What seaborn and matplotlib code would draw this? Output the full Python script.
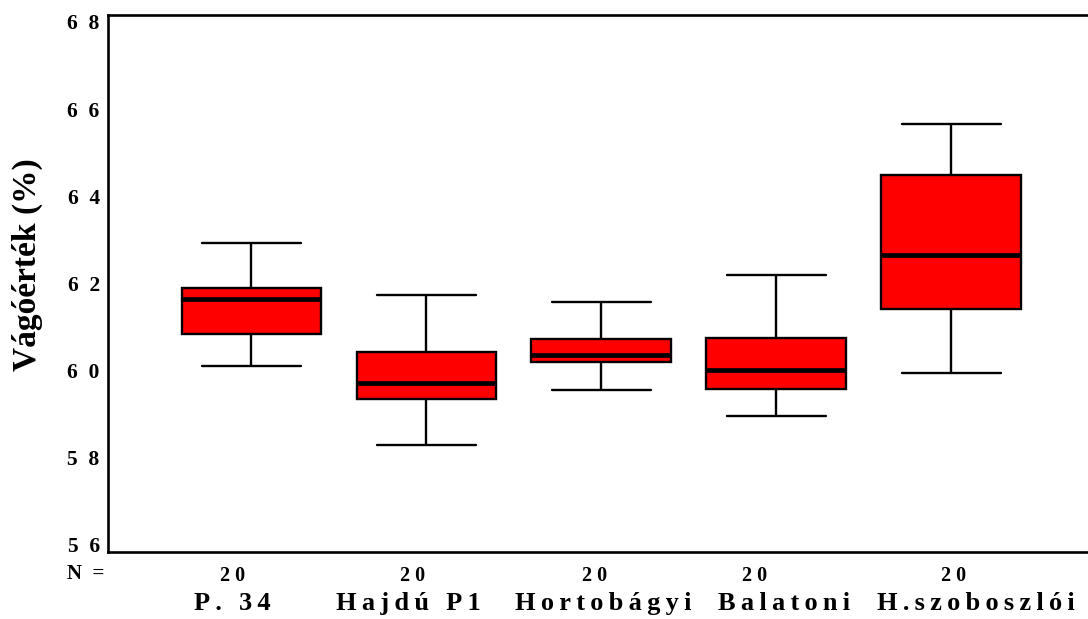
import numpy as np
import pandas as pd
import matplotlib
matplotlib.use("Agg")
import matplotlib.pyplot as plt
import matplotlib.transforms as mtransforms
import seaborn as sns

# --- data ---
categories = ["P. 34", "Hajdú P1", "Hortobágyi", "Balatoni", "H.szoboszlói"]
n_values = [20, 20, 20, 20, 20]
whisker_low = [60.16, 58.40, 59.63, 59.04, 60.00]
q1_values = [60.88, 59.42, 60.25, 59.64, 61.44]
median_values = [61.65, 59.78, 60.40, 60.07, 62.63]
q3_values = [61.89, 60.46, 60.76, 60.79, 64.43]
whisker_high = [62.90, 61.74, 61.58, 62.19, 65.57]
y_ticks = [56, 58, 60, 62, 64, 66, 68]
y_label = "Vágóérték (%)"

# --- layout (pixel nudges of text, as in the reference) ---
name_dx = [-19, -18, 2, 8, 24]
n_dx = [-19, -14, -7, -22, 2]

# five summary values per group -> quartiles reproduce exactly with linear interpolation
rows = []
for i, c in enumerate(categories):
    for v in (whisker_low[i], q1_values[i], median_values[i], q3_values[i], whisker_high[i]):
        rows.append({"group": c, "value": v})
df = pd.DataFrame(rows)

sns.set_theme(style="white")
plt.rcParams["font.family"] = ["Liberation Serif", "DejaVu Serif"]
plt.rcParams["font.weight"] = "bold"
for k in ["text.color", "axes.labelcolor", "xtick.color", "ytick.color"]:
    plt.rcParams[k] = "black"

fig = plt.figure(figsize=(10.88, 6.19), dpi=100)
L, R, B, T = 108 / 1088, 1095 / 1088, (619 - 552) / 619, (619 - 15) / 619
ax = fig.add_axes([L, B, R - L, T - B])

sns.boxplot(
    data=df, x="group", y="value", order=categories, ax=ax,
    color="#ff0000", saturation=1, width=0.8, whis=np.inf,
    linecolor="black", linewidth=1.5,
    medianprops=dict(color="black", linewidth=3.4),
    boxprops=dict(edgecolor="black", linewidth=1.7),
    whiskerprops=dict(color="black", linewidth=1.7),
    capprops=dict(color="black", linewidth=1.7),
)

# widen caps to match reference (scale about whisker centre)
for line in ax.lines:
    xd = np.asarray(line.get_xdata(), dtype=float)
    yd = np.asarray(line.get_ydata(), dtype=float)
    if len(xd) == 2 and yd[0] == yd[1] and xd[0] != xd[1]:
        w = abs(xd[1] - xd[0])
        if 0.05 < w < 0.6:
            c = xd.mean()
            line.set_xdata([c - 0.285, c + 0.285])

ax.set_xlim(-0.82, 4.82)
ax.set_ylim(56, 68)
ax.set_yticks(y_ticks)
ax.set_yticklabels(["  ".join(str(v)) for v in y_ticks], fontsize=15.5, fontweight="bold")
ax.set_xticks(range(len(categories)))
ax.set_xticklabels([" ".join(str(n)) for n in n_values], fontsize=14.5, fontweight="bold")
ax.set_xlabel("")
ax.set_ylabel(y_label, fontsize=24, fontweight="bold")
ax.yaxis.set_label_coords(-0.066, 0.536)

for s in ["top", "left", "bottom"]:
    ax.spines[s].set_visible(True)
    ax.spines[s].set_color("black")
    ax.spines[s].set_linewidth(1.9)
ax.spines["right"].set_visible(False)

ax.tick_params(axis="both", direction="out", length=4, width=3, colors="black", pad=2)
ax.tick_params(axis="x", pad=6)

# y tick labels sit slightly compressed toward the middle, as in the reference
for v, lab in zip(y_ticks, ax.get_yticklabels()):
    dy = -(v - 62) / 6 * 7 / 100
    lab.set_transform(lab.get_transform() + mtransforms.ScaledTranslation(0, dy, fig.dpi_scale_trans))
for dx, lab in zip(n_dx, ax.get_xticklabels()):
    lab.set_transform(lab.get_transform() + mtransforms.ScaledTranslation(dx / 100, 0, fig.dpi_scale_trans))

# category names as second row
thin = "\u2009"
trans = mtransforms.blended_transform_factory(ax.transData, ax.transAxes)
for i, name in enumerate(categories):
    shown = thin.join(name)
    t = ax.text(i, -0.095, shown, transform=trans,
                ha="center", va="center", fontsize=19, fontweight="bold")
    t.set_transform(trans + mtransforms.ScaledTranslation(name_dx[i] / 100, 0, fig.dpi_scale_trans))
ax.text(-0.004, -0.041, "N  =", transform=ax.transAxes, ha="right", va="center",
        fontsize=15, fontweight="bold")

fig.savefig("out.png", dpi=100)
